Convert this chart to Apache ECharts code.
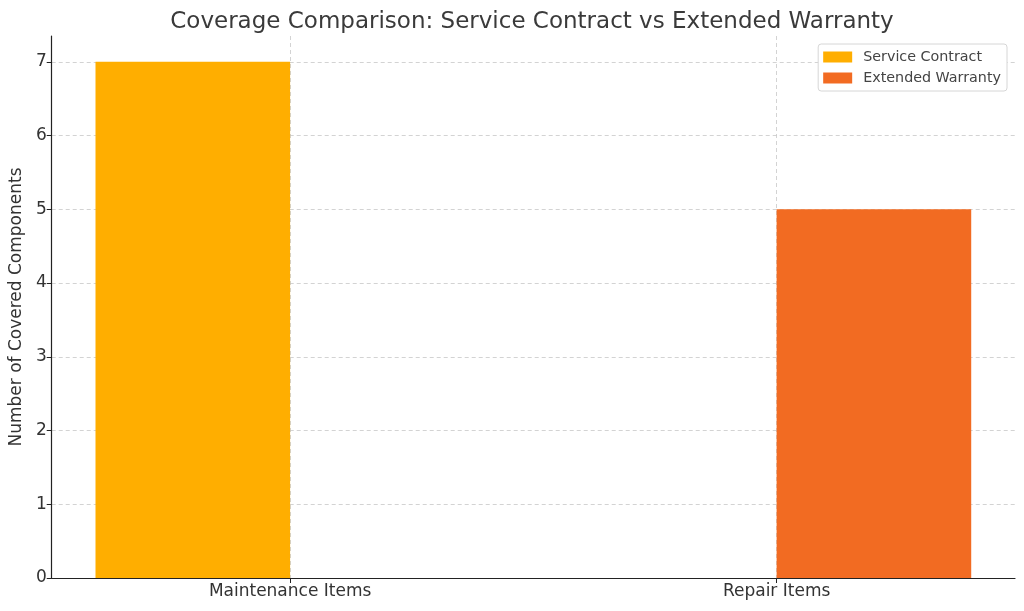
<!DOCTYPE html>
<html>
<head>
<meta charset="utf-8">
<script src="https://cdn.jsdelivr.net/npm/echarts@6/dist/echarts.min.js"></script>
<style>
  html, body { margin: 0; padding: 0; background: #fff; }
  #main { width: 1024px; height: 611px; }
</style>
</head>
<body>
<div id="main"></div>
<script>
// data
var categories = ['Maintenance Items', 'Repair Items'];
var serviceContract = [7, 0];
var extendedWarranty = [0, 5];
var yTicks = [0, 1, 2, 3, 4, 5, 6, 7];

var font = 'DejaVu Sans';
var barW = 0.4;

function toPairs(arr) {
    return arr.map(function (v, i) { return [i, v]; });
}

function barRenderer(offset) {
    return function (params, api) {
        var x = api.value(0) + offset;
        var top = api.coord([x - barW / 2, api.value(1)]);
        var base = api.coord([x + barW / 2, 0]);
        return {
            type: 'rect',
            shape: { x: top[0], y: top[1], width: base[0] - top[0], height: base[1] - top[1] },
            style: api.style()
        };
    };
}

var myChart = echarts.init(document.getElementById('main'));

var gridLine = { show: true, lineStyle: { color: '#c8c8c8', type: [4, 3], width: 0.8 } };

var option = {
    animation: false,
    textStyle: { fontFamily: font },
    title: {
        text: 'Coverage Comparison: Service Contract vs Extended Warranty',
        left: 527,
        textAlign: 'center',
        top: 6,
        textStyle: { fontFamily: font, fontSize: 23, fontWeight: 'normal', color: '#3a3a3a' }
    },
    legend: {
        orient: 'vertical',
        right: 17,
        top: 44,
        icon: 'rect',
        itemWidth: 29,
        itemHeight: 11,
        itemGap: 7,
        padding: [6, 6, 6, 5],
        backgroundColor: '#fff',
        borderColor: '#d6d6d6',
        borderWidth: 1,
        borderRadius: 3,
        textStyle: { fontFamily: font, fontSize: 14.3, color: '#444', padding: [0, 0, 0, 6] },
        data: ['Service Contract', 'Extended Warranty']
    },
    grid: { left: 49, right: 9, top: 36, bottom: 33, containLabel: false },
    xAxis: {
        type: 'value',
        min: -0.49,
        max: 1.49,
        axisLine: { show: true, onZero: false, lineStyle: { color: '#222', width: 1.2 } },
        axisTick: {
            show: true, length: 5, customValues: [0, 1],
            lineStyle: { color: '#222', width: 1 }
        },
        axisLabel: {
            customValues: [0, 1],
            margin: 5,
            fontFamily: font, fontSize: 17, color: '#333',
            formatter: function (v) { return categories[Math.round(v)] || ''; }
        },
        splitLine: gridLine
    },
    yAxis: {
        type: 'value',
        min: 0,
        max: 7.35,
        name: 'Number of Covered Components',
        nameLocation: 'middle',
        nameGap: 21,
        nameTextStyle: { fontFamily: font, fontSize: 17, color: '#333' },
        axisLine: { show: true, onZero: false, lineStyle: { color: '#222', width: 1.2 } },
        axisTick: {
            show: true, length: 5, customValues: yTicks,
            lineStyle: { color: '#222', width: 1 }
        },
        axisLabel: {
            customValues: yTicks,
            margin: 5,
            fontFamily: font, fontSize: 17, color: '#333'
        },
        splitLine: gridLine
    },
    series: [
        {
            name: 'Service Contract',
            type: 'custom',
            itemStyle: { color: '#ffae00' },
            encode: { x: 0, y: 1 },
            renderItem: barRenderer(-barW / 2),
            data: toPairs(serviceContract)
        },
        {
            name: 'Extended Warranty',
            type: 'custom',
            itemStyle: { color: '#f26b22' },
            encode: { x: 0, y: 1 },
            renderItem: barRenderer(barW / 2),
            data: toPairs(extendedWarranty)
        }
    ]
};

myChart.setOption(option);
</script>
</body>
</html>
